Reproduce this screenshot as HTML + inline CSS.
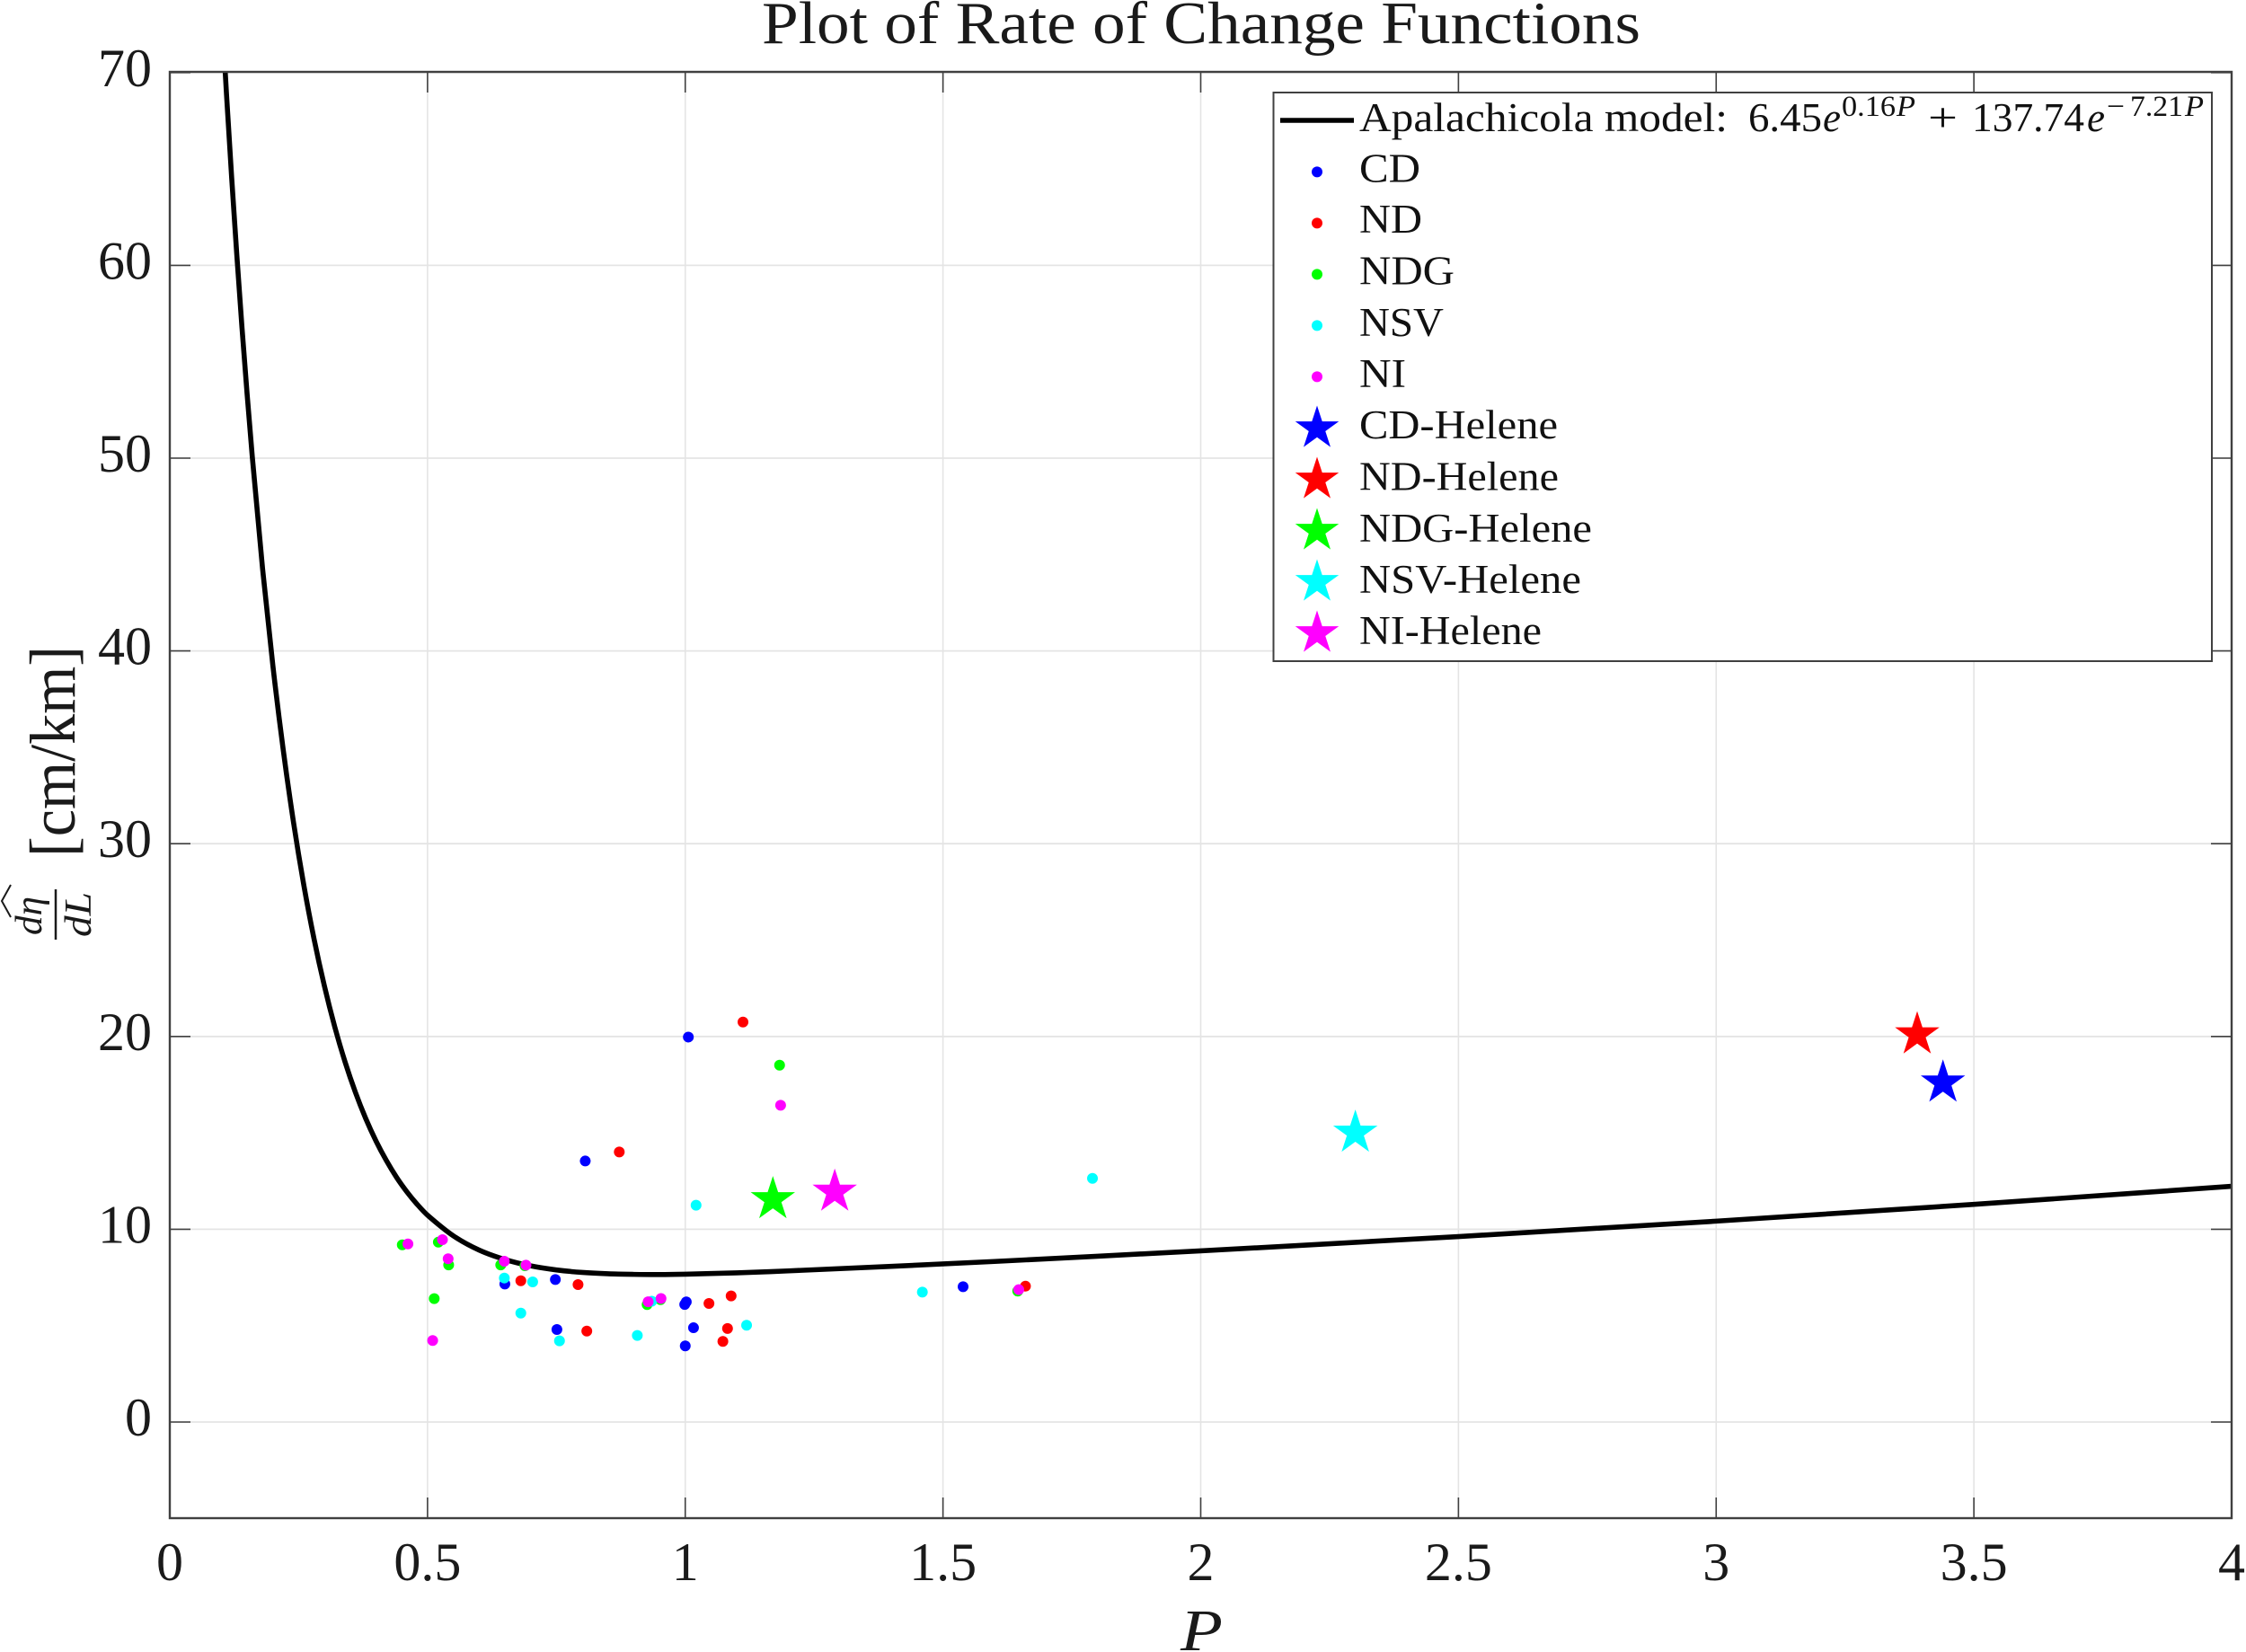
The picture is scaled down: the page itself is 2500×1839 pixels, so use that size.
<!DOCTYPE html>
<html lang="en">
<head>
<meta charset="utf-8">
<title>Plot of Rate of Change Functions</title>
<style>
  html, body { margin: 0; padding: 0; background: #fff; }
  svg { display: block; }
  text { font-family: "Liberation Serif", serif; fill: #1a1a1a; }
  .it { font-style: italic; }
  .tick { font-size: 60px; }
  .leg { font-size: 45px; fill: #111; }
  .sup { font-size: 33px; fill: #111; }
</style>
</head>
<body>
<svg id="chart" xmlns="http://www.w3.org/2000/svg" width="2500" height="1839" viewBox="0 0 2500 1839">
  <defs>
    <clipPath id="plot-clip"><rect x="189" y="80" width="2295" height="1610"></rect></clipPath>
  </defs>
  <rect x="0" y="0" width="2500" height="1839" fill="#ffffff"></rect>

  <text x="848" y="48" font-size="67" fill="#000" textLength="978" lengthAdjust="spacingAndGlyphs">Plot of Rate of Change Functions</text>

  <g id="grid"></g>
  <g id="marks" clip-path="url(#plot-clip)"></g>
  <g id="axes"></g>
  <g id="x-labels"></g>
  <g id="y-labels"></g>

  <text class="it" x="1314" y="1837" font-size="66" textLength="47" lengthAdjust="spacingAndGlyphs">P</text>

  <g>
    <text transform="translate(83 954) rotate(-90)" font-size="72" textLength="235" lengthAdjust="spacingAndGlyphs">[cm/km]</text>
    <text class="it" transform="translate(46 1041) rotate(-90)" font-size="42" textLength="43" lengthAdjust="spacingAndGlyphs">dη</text>
    <line x1="62" y1="990" x2="62" y2="1046" stroke="#1a1a1a" stroke-width="2.5"></line>
    <text class="it" transform="translate(101 1043) rotate(-90)" font-size="42" textLength="50" lengthAdjust="spacingAndGlyphs">dL</text>
    <polyline points="12,985 2,1003 12,1021" fill="none" stroke="#1a1a1a" stroke-width="2"></polyline>
  </g>

  <g id="legend">
    <rect x="1417.5" y="103" width="1044.5" height="633" fill="#ffffff" stroke="#404040" stroke-width="2"></rect>
    <line x1="1425" y1="134" x2="1507" y2="134" stroke="#000" stroke-width="5.6"></line>
    <g>
      <text class="leg" x="1513" y="146" textLength="410" lengthAdjust="spacingAndGlyphs">Apalachicola model:</text>
      <text class="leg" x="1946" y="146" textLength="82" lengthAdjust="spacingAndGlyphs">6.45</text>
      <text class="leg it" x="2029" y="146" textLength="20" lengthAdjust="spacingAndGlyphs">e</text>
      <text class="sup" x="2050" y="129" textLength="60" lengthAdjust="spacingAndGlyphs">0.16</text>
      <text class="sup it" x="2111" y="129" textLength="21" lengthAdjust="spacingAndGlyphs">P</text>
      <text class="leg" x="2146" y="146" textLength="33" lengthAdjust="spacingAndGlyphs">+</text>
      <text class="leg" x="2195" y="146" textLength="125" lengthAdjust="spacingAndGlyphs">137.74</text>
      <text class="leg it" x="2323" y="146" textLength="20" lengthAdjust="spacingAndGlyphs">e</text>
      <text class="sup" x="2345" y="129" textLength="20" lengthAdjust="spacingAndGlyphs">−</text>
      <text class="sup" x="2371" y="129" textLength="59" lengthAdjust="spacingAndGlyphs">7.21</text>
      <text class="sup it" x="2432" y="129" textLength="21" lengthAdjust="spacingAndGlyphs">P</text>
    </g>
    <text class="leg" x="1513" y="202.5" textLength="68" lengthAdjust="spacingAndGlyphs">CD</text>
    <text class="leg" x="1513" y="259" textLength="70" lengthAdjust="spacingAndGlyphs">ND</text>
    <text class="leg" x="1513" y="316.5" textLength="106" lengthAdjust="spacingAndGlyphs">NDG</text>
    <text class="leg" x="1513" y="374" textLength="94" lengthAdjust="spacingAndGlyphs">NSV</text>
    <text class="leg" x="1513" y="431" textLength="52" lengthAdjust="spacingAndGlyphs">NI</text>
    <text class="leg" x="1513" y="488" textLength="221" lengthAdjust="spacingAndGlyphs">CD-Helene</text>
    <text class="leg" x="1513" y="545.5" textLength="222" lengthAdjust="spacingAndGlyphs">ND-Helene</text>
    <text class="leg" x="1513" y="603" textLength="259" lengthAdjust="spacingAndGlyphs">NDG-Helene</text>
    <text class="leg" x="1513" y="660" textLength="247" lengthAdjust="spacingAndGlyphs">NSV-Helene</text>
    <text class="leg" x="1513" y="717" textLength="203" lengthAdjust="spacingAndGlyphs">NI-Helene</text>
  </g>
</svg>

<script>
// ---- chart data ----
const xTicks = [0, 0.5, 1, 1.5, 2, 2.5, 3, 3.5, 4];
const xTickLabels = ['0', '0.5', '1', '1.5', '2', '2.5', '3', '3.5', '4'];
const yTicks = [0, 10, 20, 30, 40, 50, 60, 70];
const yTickLabels = ['0', '10', '20', '30', '40', '50', '60', '70'];

const curveP = [0.10,0.11,0.12,0.13,0.14,0.15,0.16,0.18,0.20,0.22,0.24,0.26,0.28,0.30,0.32,0.34,0.36,0.38,0.40,0.42,0.44,0.46,0.48,0.50,0.55,0.60,0.65,0.70,0.75,0.80,0.85,0.90,0.95,1.0,1.1,1.2,1.4,1.6,1.8,2.0,2.5,3.0,3.5,4.0];
const curveValues = [73.54,68.88,64.56,60.54,56.79,53.32,50.08,44.26,39.23,34.88,31.11,27.85,25.04,22.61,20.50,18.68,17.11,15.75,14.58,13.57,12.69,11.94,11.29,10.73,9.66,8.92,8.43,8.10,7.89,7.76,7.69,7.66,7.65,7.67,7.74,7.84,8.075,8.33,8.60,8.88,9.62,10.42,11.29,12.23];

const seriesNames = ['cd', 'nd', 'ndg', 'nsv', 'ni'];
const seriesColors = ['#0000ff', '#ff0000', '#00ff00', '#00ffff', '#ff00ff'];

const cdP = [1.006,0.806,0.650,0.748,0.751,0.999,1.002,1.016,1.000,1.539];
const cdValues = [19.97,13.54,7.16,7.39,4.80,6.10,6.23,4.89,3.95,7.02];
const ndP = [1.112,0.872,0.681,0.792,0.809,1.046,1.089,1.082,1.073,1.660];
const ndValues = [20.75,14.01,7.33,7.13,4.72,6.15,6.54,4.85,4.18,7.05];
const ndgP = [1.183,0.451,0.521,0.541,0.642,0.689,0.513,0.926,0.952,1.645];
const ndgValues = [18.51,9.19,9.33,8.15,8.15,8.11,6.40,6.09,6.35,6.79];
const nsvP = [1.790,1.021,1.460,0.649,0.704,0.681,0.756,0.907,0.935,1.119];
const nsvValues = [12.64,11.25,6.74,7.47,7.27,5.65,4.21,4.49,6.27,5.02];
const niP = [1.185,0.462,0.529,0.540,0.649,0.691,0.510,0.928,0.953,1.647];
const niValues = [16.43,9.24,9.46,8.47,8.34,8.14,4.23,6.24,6.41,6.87];

const heleneP = [3.44, 3.39, 1.17, 2.30, 1.29];
const heleneValues = [17.6, 20.1, 11.55, 15.0, 11.94];

// ---- scales ----
const plotLeft = 189, plotRight = 2484, plotTop = 80, plotBottom = 1690;
const xDomain = [0, 4];
function xScale(v) { return plotLeft + (v - xDomain[0]) / (xDomain[1] - xDomain[0]) * (plotRight - plotLeft); }
function yScale(v) { return 1583 - v * 21.46; }

const NS = 'http://www.w3.org/2000/svg';
function make(tag, attrs, parent) {
  const node = document.createElementNS(NS, tag);
  for (const k in attrs) node.setAttribute(k, attrs[k]);
  parent.appendChild(node);
  return node;
}
function starPoints(cx, cy, R) {
  const pts = [];
  for (let i = 0; i < 10; i++) {
    const r = i % 2 === 0 ? R : R * 0.382;
    const a = -Math.PI / 2 + i * Math.PI / 5;
    pts.push((cx + r * Math.cos(a)).toFixed(2) + ',' + (cy + r * Math.sin(a)).toFixed(2));
  }
  return pts.join(' ');
}
function smoothPath(xs, ys) {
  const px = xs.map(xScale), py = ys.map(yScale);
  let d = 'M' + px[0].toFixed(2) + ' ' + py[0].toFixed(2);
  for (let i = 0; i < px.length - 1; i++) {
    const a = Math.max(i - 1, 0), b = Math.min(i + 2, px.length - 1);
    const hx = px[i + 1] - px[i];
    const sx0 = (px[i + 1] - px[a]) / (px[i + 1] - px[a] || 1), sy0 = (py[i + 1] - py[a]) / (px[i + 1] - px[a] || 1);
    const sy1 = (py[b] - py[i]) / (px[b] - px[i] || 1);
    d += 'C' + (px[i] + hx / 3).toFixed(2) + ' ' + (py[i] + sy0 * sx0 * hx / 3).toFixed(2) + ' ' +
         (px[i + 1] - hx / 3).toFixed(2) + ' ' + (py[i + 1] - sy1 * hx / 3).toFixed(2) + ' ' +
         px[i + 1].toFixed(2) + ' ' + py[i + 1].toFixed(2);
  }
  return d;
}

const gridG = document.getElementById('grid');
const marksG = document.getElementById('marks');
const axesG = document.getElementById('axes');
const xLabG = document.getElementById('x-labels');
const yLabG = document.getElementById('y-labels');
const legendG = document.getElementById('legend');
const gridColor = '#e4e4e4', axisColor = '#404040', tickLen = 23;

// grid, ticks and tick labels
xTicks.forEach(function (t, i) {
  const x = xScale(t);
  const g = make('line', { x1: x, y1: plotTop, x2: x, y2: plotBottom, stroke: gridColor, 'stroke-width': 1.6 }, gridG);
  
  
  const b = make('line', { x1: x, y1: plotBottom, x2: x, y2: plotBottom - tickLen, stroke: axisColor, 'stroke-width': 1.6 }, axesG);
  
  
  const u = make('line', { x1: x, y1: plotTop, x2: x, y2: plotTop + tickLen, stroke: axisColor, 'stroke-width': 1.6 }, axesG);
  
  
  const l = make('text', { x: x, y: 1759, 'text-anchor': 'middle', class: 'tick' }, xLabG);
  
  
  l.textContent = xTickLabels[i];
});
yTicks.forEach(function (t, i) {
  const y = yScale(t);
  const g = make('line', { x1: plotLeft, y1: y, x2: plotRight, y2: y, stroke: gridColor, 'stroke-width': 1.8 }, gridG);
  
  
  const a = make('line', { x1: plotLeft, y1: y, x2: plotLeft + tickLen, y2: y, stroke: axisColor, 'stroke-width': 1.6 }, axesG);
  
  
  const c = make('line', { x1: plotRight, y1: y, x2: plotRight - tickLen, y2: y, stroke: axisColor, 'stroke-width': 1.6 }, axesG);
  
  
  const l = make('text', { x: 169, y: y + 15, 'text-anchor': 'end', class: 'tick' }, yLabG);
  
  
  l.textContent = yTickLabels[i];
});

// axes frame
const frame = make('rect', { x: plotLeft, y: plotTop, width: plotRight - plotLeft, height: plotBottom - plotTop, fill: 'none', stroke: axisColor, 'stroke-width': 2.4 }, axesG);



// model curve
const curve = make('path', {
  d: smoothPath(curveP, curveValues),
  fill: 'none', stroke: '#000', 'stroke-width': 5.6, 'stroke-linejoin': 'round'
}, marksG);



// observed points
const seriesP = [cdP, ndP, ndgP, nsvP, niP];
const seriesV = [cdValues, ndValues, ndgValues, nsvValues, niValues];
seriesNames.forEach(function (name, s) {
  seriesP[s].forEach(function (p, i) {
    const dot = make('circle', { cx: xScale(p), cy: yScale(seriesV[s][i]), r: 6, fill: seriesColors[s] }, marksG);
    
    
  });
});

// Helene stars
heleneP.forEach(function (p, i) {
  const st = make('polygon', { points: starPoints(xScale(p), yScale(heleneValues[i]), 26), fill: seriesColors[i] }, marksG);
  
  
});

// legend markers
seriesNames.forEach(function (name, i) {
  const m = make('circle', { cx: 1466, cy: 191.4 + i * 57, r: 6, fill: seriesColors[i] }, legendG);
  
  
  const s = make('polygon', { points: starPoints(1466, 477 + i * 57, 25.5), fill: seriesColors[i] }, legendG);
  
  
});
</script>
</body>
</html>
